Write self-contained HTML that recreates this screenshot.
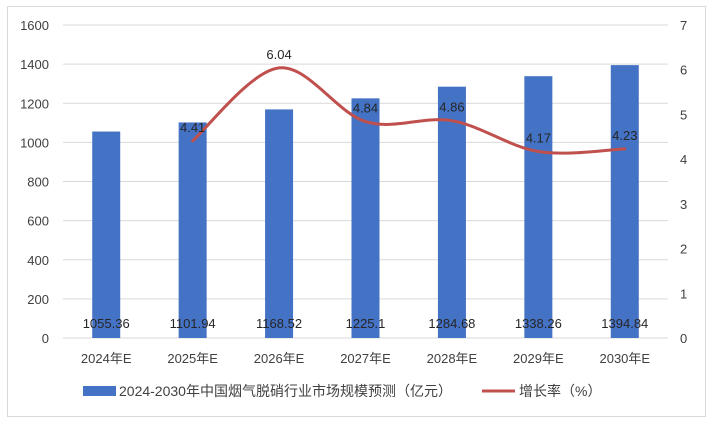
<!DOCTYPE html>
<html><head><meta charset="utf-8"><style>
body{margin:0;background:#fff;width:714px;height:426px;overflow:hidden;font-family:"Liberation Sans","Noto Sans CJK SC",sans-serif}
</style></head><body>
<svg id="c" width="714" height="426" xmlns="http://www.w3.org/2000/svg" font-family="Liberation Sans, Noto Sans CJK SC, sans-serif">
<rect x="7.5" y="6.5" width="698" height="410" fill="#fff" stroke="#d9d9d9"/>
<g id="grid"></g><g id="bars"></g><g id="line"></g><g id="labels"></g>
<g>
<rect x="83" y="386" width="33" height="10" fill="#4472c4"/>
<text x="119" y="396" font-size="14" fill="#404040">2024-2030年中国烟气脱硝行业市场规模预测（亿元）</text>
<line x1="482" y1="391" x2="515" y2="391" stroke="#c0504d" stroke-width="3"/>
<text x="519" y="396" font-size="14" fill="#404040">增长率（%）</text>
</g>
</svg>
<script>
const categories=["2024年E","2025年E","2026年E","2027年E","2028年E","2029年E","2030年E"];
const marketSize=[1055.36,1101.94,1168.52,1225.1,1284.68,1338.26,1394.84];
const growthRate=[null,4.41,6.04,4.84,4.86,4.17,4.23];
const leftTicks=[0,200,400,600,800,1000,1200,1400,1600];
const rightTicks=[0,1,2,3,4,5,6,7];
const NS="http://www.w3.org/2000/svg";
const L=63,R=668,T=25,B=338;
const step=(R-L)/categories.length;
const xc=i=>L+step*(i+0.5);
const yL=v=>B-(v/1600)*(B-T);
const yR=v=>B-(v/7)*(B-T);
function mk(tag,attrs,parent,txt){const e=document.createElementNS(NS,tag);for(const k in attrs)e.setAttribute(k,attrs[k]);if(txt!==undefined)e.textContent=txt;document.getElementById(parent).appendChild(e);return e;}
leftTicks.forEach(v=>{
 const g=mk('line',{x1:L,x2:R,y1:yL(v),y2:yL(v),stroke:'#d9d9d9','stroke-width':1},'grid');
 
 
 const t=mk('text',{x:49,y:yL(v)+5,'font-size':13,fill:'#404040','text-anchor':'end'},'labels',v);
 
 
});
rightTicks.forEach(v=>{
 const t=mk('text',{x:680,y:yR(v)+5,'font-size':13,fill:'#404040'},'labels',v);
 
 
});
categories.forEach((c,i)=>{
 const r=mk('rect',{x:xc(i)-14,y:yL(marketSize[i]),width:28,height:B-yL(marketSize[i]),fill:'#4472c4'},'bars');
 
 
 const t=mk('text',{x:xc(i),y:328,'font-size':13,fill:'#262626','text-anchor':'middle'},'labels',marketSize[i]);
 
 
 const x=mk('text',{x:xc(i),y:363,'font-size':13,fill:'#404040','text-anchor':'middle'},'labels',c);
 
 
});
const pts=[];growthRate.forEach((v,i)=>{if(v!==null)pts.push([xc(i),yR(v),v]);});
let d='M'+pts[0][0]+','+pts[0][1];
for(let i=0;i<pts.length-1;i++){
 const p0=pts[i-1]||pts[i],p1=pts[i],p2=pts[i+1],p3=pts[i+2]||p2;
 const k=1/6;
 d+=` C${p1[0]+(p2[0]-p0[0])*k},${p1[1]+(p2[1]-p0[1])*k} ${p2[0]-(p3[0]-p1[0])*k},${p2[1]-(p3[1]-p1[1])*k} ${p2[0]},${p2[1]}`;
}
const pl=mk('path',{d:d,fill:'none',stroke:'#c0504d','stroke-width':3,'stroke-linecap':'round'},'line');


pts.forEach(p=>{
 const t=mk('text',{x:p[0],y:p[1]-9,'font-size':13,fill:'#262626','text-anchor':'middle'},'labels',p[2]);
 
 
});
</script>
</body></html>
